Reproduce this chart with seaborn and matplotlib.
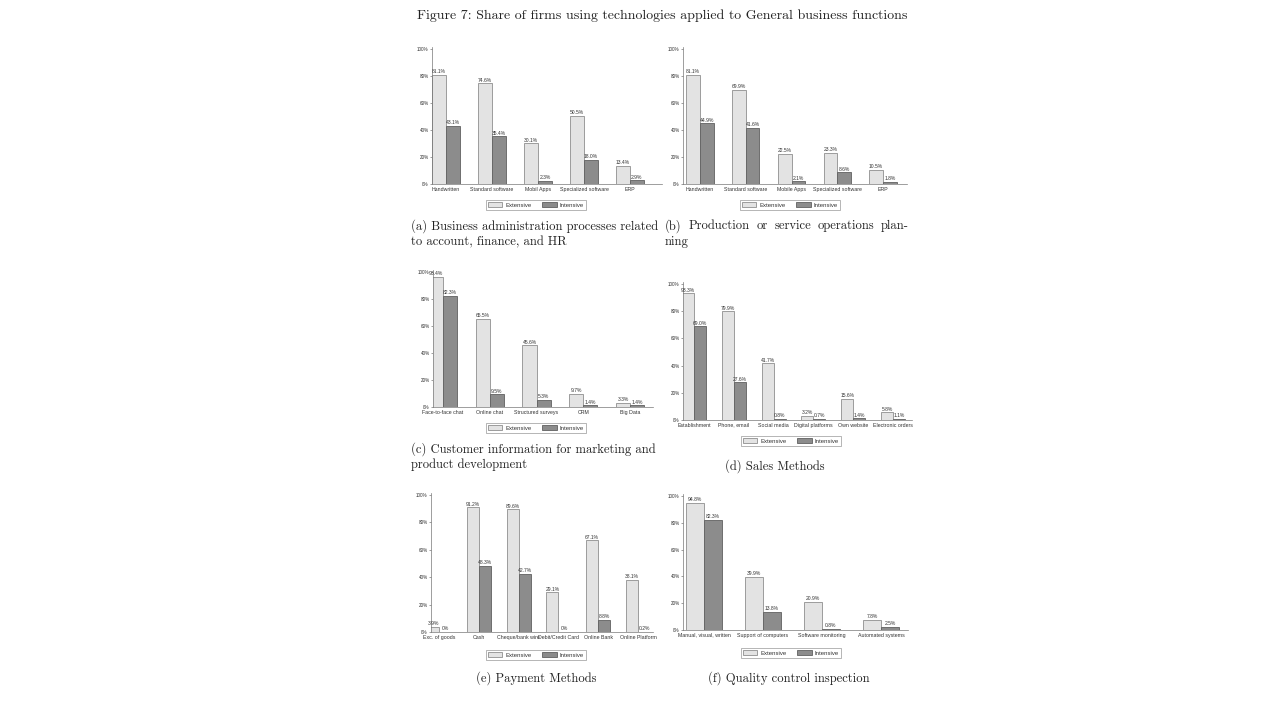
import matplotlib
matplotlib.use("Agg")
import matplotlib.pyplot as plt
import matplotlib.patches as mpatches
import pandas as pd
import seaborn as sns

# ---- data ----
fig_title = "Figure 7: Share of firms using technologies applied to General business functions"
series_names = ["Extensive", "Intensive"]

admin_cats = ["Handwritten", "Standard software", "Mobil Apps", "Specialized software", "ERP"]
admin_ext = [81.1, 74.6, 30.1, 50.5, 13.4]
admin_int = [43.1, 35.4, 2.3, 18.0, 2.9]

prod_cats = ["Handwritten", "Standard software", "Mobile Apps", "Specialized software", "ERP"]
prod_ext = [81.1, 69.9, 22.5, 23.3, 10.5]
prod_int = [44.9, 41.6, 2.1, 8.6, 1.8]

cust_cats = ["Face-to-face chat", "Online chat", "Structured surveys", "CRM", "Big Data"]
cust_ext = [96.4, 65.5, 45.6, 9.7, 3.3]
cust_int = [82.3, 9.5, 5.3, 1.4, 1.4]

sales_cats = ["Establishment", "Phone, email", "Social media", "Digital platforms",
              "Own website", "Electronic orders"]
sales_ext = [93.3, 79.9, 41.7, 3.2, 15.6, 5.8]
sales_int = [69.0, 27.6, 0.8, 0.7, 1.4, 1.1]

pay_cats = ["Exc. of goods", "Cash", "Cheque/bank wire", "Debit/Credit Card",
            "Online Bank", "Online Platform"]
pay_ext = [3.9, 91.2, 89.6, 29.1, 67.1, 38.1]
pay_int = [0.0, 48.3, 42.7, 0.0, 8.8, 0.2]

qc_cats = ["Manual, visual, written", "Support of computers", "Software monitoring",
           "Automated systems"]
qc_ext = [94.8, 39.9, 20.9, 7.8]
qc_int = [82.3, 13.8, 0.8, 2.5]

captions = {
    "a": ["(a) Business administration processes related", "to account, finance, and HR"],
    "b": ["(b) Production or service operations plan-", "ning"],
    "c": ["(c) Customer information for marketing and", "product development"],
    "d": ["(d) Sales Methods"],
    "e": ["(e) Payment Methods"],
    "f": ["(f) Quality control inspection"],
}

# ---- layout in pixels of the 1280x720 page ----
W, H = 1280, 720
# key: (cats, ext, int, x0, x1, y_zero, y_hundred, first_center, last_center,
#       legend_xy, caption_xy, caption_ha, justify_to)
panels = {
    "a": (admin_cats, admin_ext, admin_int, 432, 662, 184, 49, 446, 630, (536, 205), (411, 226), "left", None),
    "b": (prod_cats, prod_ext, prod_int, 683, 907, 184, 49, 700, 883, (790, 205), (665, 226), "left", 909),
    "c": (cust_cats, cust_ext, cust_int, 433, 653, 407, 272, 443, 630, (536, 428), (411, 449), "left", None),
    "d": (sales_cats, sales_ext, sales_int, 683, 912, 420, 284, 694, 893, (791, 441), (775, 466), "center", None),
    "e": (pay_cats, pay_ext, pay_int, 431, 653, 632, 495, 439, 638, (536, 655), (536, 678), "center", None),
    "f": (qc_cats, qc_ext, qc_int, 683, 908, 630, 496, 704, 881, (791, 653), (789, 678), "center", None),
}

ext_color, ext_edge = "#e3e3e3", "#8f8f8f"
int_color, int_edge = "#8c8c8c", "#606060"
sans = ["Liberation Sans", "DejaVu Sans"]
serif = ["cmr10", "DejaVu Serif"]
cap_size = 9.05

sns.set_theme(style="white")
plt.rcParams["font.family"] = sans
plt.rcParams["axes.unicode_minus"] = False

fig = plt.figure(figsize=(W / 100, H / 100), dpi=100)
fig.patch.set_facecolor("white")
renderer = fig.canvas.get_renderer()

fig.text(662 / W, 1 - 16 / H, fig_title, ha="center", va="center",
         fontsize=10.0, family=serif, color="#222222")


def pct(v):
    return "0%" if v == 0 else f"{v:.1f}%"


def justified_line(text, x_left, x_right, y):
    # spread the words of one caption line over a fixed width, like LaTeX does
    words = text.split()
    arts = [fig.text(0, 1 - y / H, w, ha="left", va="center", fontsize=cap_size,
                     family=serif, color="#222222") for w in words]
    widths = [a.get_window_extent(renderer).width for a in arts]
    gap = (x_right - x_left - sum(widths)) / (len(words) - 1)
    x = x_left
    for a, w in zip(arts, widths):
        a.set_x(x / W)
        x += w + gap


legend_handles = [
    mpatches.Patch(facecolor=ext_color, edgecolor=ext_edge, linewidth=0.6),
    mpatches.Patch(facecolor=int_color, edgecolor=int_edge, linewidth=0.6),
]

for key, spec in panels.items():
    cats, ext, intens, x0, x1, yz, yh, c0, cl, leg_xy, cap_xy, cap_ha, just = spec
    n = len(cats)
    ytop = 101.5
    ax = fig.add_axes([x0 / W, 1 - yz / H, (x1 - x0) / W, (yz - yh) / H * ytop / 100])

    df = pd.DataFrame({
        "category": cats * 2,
        "share": list(ext) + list(intens),
        "type": [series_names[0]] * n + [series_names[1]] * n,
    })
    sns.barplot(data=df, x="category", y="share", hue="type", ax=ax,
                palette=[ext_color, int_color], width=0.6, dodge=True,
                saturation=1, linewidth=0.6, legend=False)
    for cont, edge in zip(ax.containers, [ext_edge, int_edge]):
        for bar in cont:
            bar.set_edgecolor(edge)
    for cont, vals in zip(ax.containers, [ext, intens]):
        ax.bar_label(cont, labels=[pct(v) for v in vals], fontsize=3.6,
                     padding=0.4, color="#333333")

    step = (cl - c0) / (n - 1)
    ax.set_xlim(-(c0 - x0) / step, (n - 1) + (x1 - cl) / step)
    ax.set_ylim(0, ytop)
    ax.set_yticks([0, 20, 40, 60, 80, 100])
    ax.set_yticklabels([f"{t}%" for t in [0, 20, 40, 60, 80, 100]])
    ax.set_xlabel("")
    ax.set_ylabel("")
    ax.tick_params(axis="y", length=1.5, width=0.4, labelsize=3.3, pad=1,
                   colors="#555555", labelcolor="#333333", left=True)
    ax.tick_params(axis="x", length=0, labelsize=3.8, pad=2, labelcolor="#333333")
    for side in ["top", "right"]:
        ax.spines[side].set_visible(False)
    for side in ["left", "bottom"]:
        ax.spines[side].set_color("#777777")
        ax.spines[side].set_linewidth(0.5)
    ax.set_facecolor("white")
    ax.grid(False)

    leg = fig.legend(legend_handles, series_names, loc="center",
                     bbox_to_anchor=(leg_xy[0] / W, 1 - leg_xy[1] / H),
                     ncol=2, fontsize=4.3, frameon=True, fancybox=False,
                     handlelength=2.4, handleheight=0.85, handletextpad=0.5,
                     columnspacing=1.8, borderpad=0.35, borderaxespad=0,
                     edgecolor="#999999", framealpha=1)
    leg.get_frame().set_linewidth(0.5)
    for txt in leg.get_texts():
        txt.set_color("#333333")

    for i, line in enumerate(captions[key]):
        y = cap_xy[1] + 16 * i
        if just is not None and i == 0:
            justified_line(line, cap_xy[0], just, y)
        else:
            fig.text(cap_xy[0] / W, 1 - y / H, line, ha=cap_ha, va="center",
                     fontsize=cap_size, family=serif, color="#222222")

fig.savefig("out.png", dpi=100, facecolor="white")
